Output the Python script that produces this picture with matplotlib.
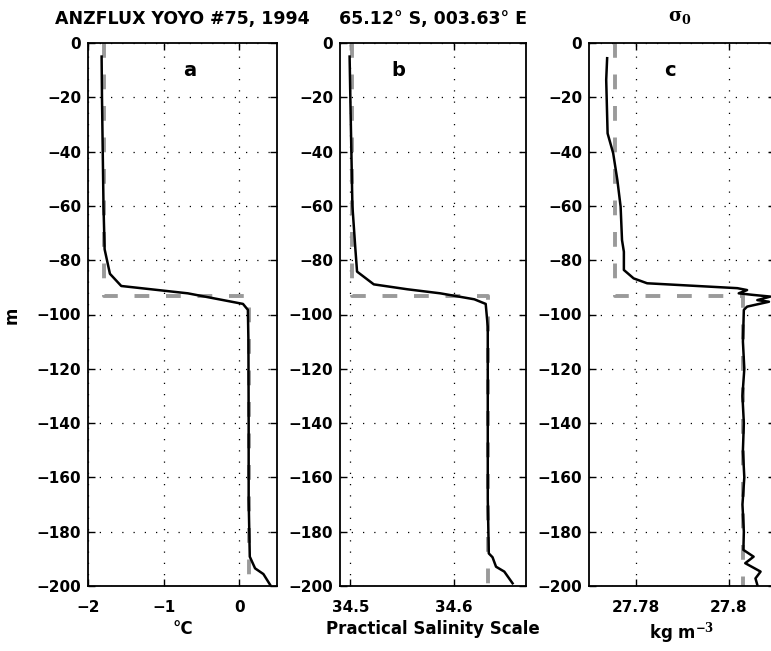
import matplotlib
matplotlib.use("Agg")
import matplotlib.pyplot as plt
import numpy as np

plt.rcParams['font.family'] = ['DejaVu Sans']
plt.rcParams['font.weight'] = 'bold'
plt.rcParams['mathtext.fontset'] = 'dejavuserif'

# depth (m) and profiles
temp_z = [-5, -20, -40, -60, -76, -85, -89.5, -92.2, -96.1, -98.3, -110, -140, -168, -189.2, -193.5, -195.6, -199.6]
temp_x = [-1.82, -1.815, -1.805, -1.795, -1.78, -1.71, -1.56, -0.68, 0.05, 0.115, 0.122, 0.125, 0.125, 0.14, 0.21, 0.32, 0.41]
temp_mld = [0, -93.2, -93.2, -200]
temp_mix = [-1.79, -1.79, 0.128, 0.128]

sal_z = [-5, -20, -40, -60, -76, -84.2, -88.9, -90.7, -92.2, -94.4, -96.1, -104.5, -140, -168, -188, -189.4, -192.9, -194.7, -199]
sal_x = [34.4993, 34.5, 34.501, 34.502, 34.5049, 34.5065, 34.5227, 34.555, 34.587, 34.62, 34.631, 34.633, 34.633, 34.633, 34.634, 34.6376, 34.641, 34.649, 34.657]
sal_mld = [0, -93.2, -93.2, -200]
sal_mix = [34.502, 34.502, 34.633, 34.633]

sig_z = [-5.6, -13.6, -33.3, -40.6, -50.5, -60.3, -72.6, -76.9, -83.6, -86.7, -88.5, -90.3, -91.0, -92.2, -92.8, -93.4, -94.7, -95.3,
         -97.1, -98.3, -110, -120, -130, -140, -150, -160, -170, -180, -186.7, -189.2, -191.6, -194.7, -197.2, -199.6]
sig_x = [27.7739, 27.7737, 27.774, 27.7752, 27.7761, 27.7768, 27.7771, 27.7775, 27.7775, 27.7796, 27.7825, 27.8019, 27.804, 27.8022,
         27.8054, 27.809, 27.8062, 27.8087, 27.804, 27.8033, 27.8031, 27.8034, 27.803, 27.8033, 27.8031, 27.8034, 27.803, 27.8033,
         27.8032, 27.8054, 27.8036, 27.8069, 27.8058, 27.8062]
sig_mld = [0, -93.2, -93.2, -200]
sig_mix = [27.7755, 27.7755, 27.8032, 27.8032]

fig = plt.figure(figsize=(7.71, 6.51), dpi=100)
W, H = 771, 651

def box(x0, x1):
    return [x0 / W, (H - 586) / H, (x1 - x0) / W, 543 / H]

panels = [
    (box(88, 277), temp_x, temp_z, temp_mix, temp_mld, (-2, 0.5), [-2, -1, 0], ['\u22122', '\u22121', '0'], '°C', 'a', -0.65),
    (box(340, 526), sal_x, sal_z, sal_mix, sal_mld, (34.49, 34.67), [34.5, 34.6], ['34.5', '34.6'], 'Practical Salinity Scale', 'b', 34.546),
    (box(589, 775), sig_x, sig_z, sig_mix, sig_mld, (27.77, 27.81), [27.78, 27.8], ['27.78', '27.8'], r'kg m$^{\mathbf{-3}}$', 'c', 27.7875),
]

for rect, x, z, mx, mz, xl, xt, xtl, xlab, lab, labx in panels:
    ax = fig.add_axes(rect)
    ax.plot(mx, mz, color='#9a9a9a', lw=2.8, dashes=(3.8, 4.3), zorder=2)
    ax.plot(x, z, color='black', lw=1.8, zorder=3)
    ax.set_xlim(*xl)
    ax.set_ylim(-200, 0)
    ax.set_xticks(xt)
    ax.set_xticklabels(xtl)
    ax.set_yticks(np.arange(-200, 1, 20))
    ax.set_yticklabels(['\u2212%d' % abs(v) if v else '0' for v in np.arange(-200, 1, 20)])
    ax.grid(True, color='black', linestyle=(0, (1, 8)), lw=0.9)
    ax.tick_params(direction='in', top=True, right=True, length=5, width=1, labelsize=11)
    ax.tick_params(axis='x', pad=10)
    ax.tick_params(axis='y', pad=5)
    for s in ax.spines.values():
        s.set_linewidth(1.3)
    ax.set_xlabel(xlab, fontsize=12, fontweight='bold', labelpad=4)
    ax.text(labx, -10, lab, fontsize=14, fontweight='bold', ha='center', va='center')

fig.text(12 / W, 1 - 315 / H, 'm', fontsize=12, fontweight='bold', ha='center', va='center', rotation=90)
fig.text(182 / W, 1 - 19 / H, 'ANZFLUX YOYO #75, 1994', fontsize=12.5, fontweight='bold', ha='center', va='center')
fig.text(433 / W, 1 - 19 / H, '65.12° S, 003.63° E', fontsize=12.5, fontweight='bold', ha='center', va='center')
fig.text(680 / W, 1 - 17 / H, r'$\mathrm{\sigma}_\mathbf{0}$', fontsize=13, ha='center', va='center')

plt.savefig("out.png", dpi=100)
